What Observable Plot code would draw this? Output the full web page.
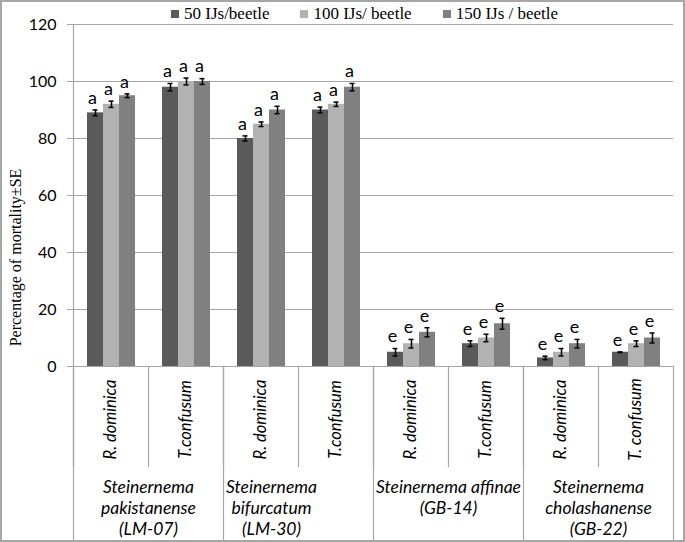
<!DOCTYPE html>
<html>
<head>
<meta charset="utf-8">
<script src="https://cdn.jsdelivr.net/npm/d3@7"></script>
<script src="https://cdn.jsdelivr.net/npm/@observablehq/plot@0.6"></script>
<style>
  html, body { margin: 0; padding: 0; background: #fff; }
  #wrap { position: relative; width: 685px; height: 542px; overflow: hidden; }
  #border { position: absolute; left: 0; top: 0; width: 685px; height: 542px; box-sizing: border-box; border: 2px solid #a6a6a6; pointer-events: none; }
  #legend { position: absolute; left: 171px; top: 4px; }
  .lg-swatches { font-family: "Liberation Serif", serif !important; font-size: 17px !important; color: #000; margin: 0 !important; min-height: 0 !important; }
  .lg-swatch { margin-right: 31px !important; }
  .lg-swatch > svg { margin-right: 5px !important; }
</style>
</head>
<body>
<div id="wrap"><div id="chart"></div><div id="legend"></div><div id="border"></div></div>
<script>
// ---- data ----
const doses = ["50 IJs/beetle", "100 IJs/ beetle", "150 IJs / beetle"];
const speciesLabels = [
  "Steinernema\npakistanense\n(LM-07)",
  "Steinernema\nbifurcatum\n(LM-30)",
  "Steinernema affinae\n(GB-14)",
  "Steinernema\ncholashanense\n(GB-22)"
];
const insectLabels = ["R. dominica", "T.confusum", "R. dominica", "T.confusum", "R. dominica", "T.confusum", "R. dominica", "T. confusum"];
const speciesOfGroup = [0, 0, 1, 1, 2, 2, 3, 3];
const mean50  = [89, 98, 80, 90, 5, 8, 3, 5];
const mean100 = [92, 100, 85, 92, 8, 10, 5, 8];
const mean150 = [95, 100, 90, 98, 12, 15, 8, 10];
const se50  = [1.0, 1.3, 0.9, 1.0, 1.3, 1.0, 0.6, 0.1];
const se100 = [1.1, 1.2, 0.8, 0.75, 1.5, 1.3, 1.3, 1.0];
const se150 = [0.65, 1.0, 1.3, 1.3, 1.6, 1.9, 1.5, 1.75];
const letters = ["a", "a", "a", "a", "e", "e", "e", "e"];
const yLabel = "Percentage of mortality±SE";
const yTicks = [0, 20, 40, 60, 80, 100, 120];

// ---- table built from arrays ----
const groupKeys = insectLabels.map((d, i) => `g${i}`);
const means = [mean50, mean100, mean150];
const ses = [se50, se100, se150];
const rows = [];
groupKeys.forEach((k, g) => {
  doses.forEach((dose, j) => {
    rows.push({key: k, dose, mean: means[j][g], se: ses[j][g], letter: letters[g]});
  });
});
const insectRows = groupKeys.map((k, i) => ({key: k, label: insectLabels[i]}));
const speciesRows = speciesLabels.map((s, i) => ({key: groupKeys[speciesOfGroup.indexOf(i)], label: s, idx: i}));
const groupStartKeys = speciesLabels.map((s, i) => groupKeys[speciesOfGroup.indexOf(i)]);

const grid = "#a6a6a6";
const sans = "Lato, 'Open Sans', sans-serif";
const plotH = 366 - 24;

const chart = Plot.plot({
  width: 685,
  height: 542,
  marginTop: 24,
  marginBottom: 176,
  marginLeft: 73,
  marginRight: 12,
  style: {fontFamily: sans, fontSize: "15px", color: "#000", background: "transparent"},
  fx: {domain: groupKeys, padding: 0, axis: null, label: null},
  x: {domain: doses, paddingInner: 0, paddingOuter: 0.75, axis: null, label: null},
  y: {domain: [0, 120], label: null},
  color: {domain: doses, range: ["#5a5a5a", "#b2b2b2", "#808080"]},
  marks: [
    Plot.gridY(yTicks, {stroke: grid, strokeOpacity: 1, strokeWidth: 1.2}),
    Plot.axisY(yTicks, {tickSize: 6, tickPadding: 11, stroke: grid, strokeOpacity: 1, fontSize: 16, label: null}),
    // left axis line
    Plot.frame({anchor: "left", stroke: grid, strokeWidth: 1.2, fx: () => groupKeys[0]}),
    // minor table separators
    Plot.frame({anchor: "left", stroke: grid, strokeWidth: 1.2, insetTop: plotH, insetBottom: -100}),
    // group table separators
    ...groupStartKeys.map(k => Plot.frame({anchor: "left", stroke: grid, strokeWidth: 1.2, insetTop: plotH, insetBottom: -176, fx: () => k})),
    Plot.frame({anchor: "right", stroke: grid, strokeWidth: 1.2, insetTop: plotH, insetBottom: -176, fx: () => groupKeys[groupKeys.length - 1]}),
    Plot.barY(rows, {fx: "key", x: "dose", y: "mean", fill: "dose"}),
    Plot.ruleY([0], {stroke: grid, strokeWidth: 1.2}),
    Plot.ruleX(rows, {fx: "key", x: "dose", y1: d => d.mean - d.se, y2: d => d.mean + d.se, stroke: "#000", strokeWidth: 1.5}),
    Plot.tickY(rows, {fx: "key", x: "dose", y: d => d.mean + d.se, stroke: "#000", strokeWidth: 1.5, insetLeft: 5.5, insetRight: 5.5}),
    Plot.tickY(rows, {fx: "key", x: "dose", y: d => d.mean - d.se, stroke: "#000", strokeWidth: 1.5, insetLeft: 5.5, insetRight: 5.5}),
    Plot.text(rows, {fx: "key", x: "dose", y: d => d.mean + d.se, text: "letter", dy: -12, dx: -3, fontSize: 18, fill: "#000", fontFamily: sans}),
    // rotated insect labels
    Plot.text(insectRows, {fx: "key", text: "label", frameAnchor: "bottom", rotate: -90, dy: 53, textAnchor: "middle", lineAnchor: "middle", fontSize: 16.5, fontStyle: "italic", fill: "#000", fontFamily: sans}),
    // species labels
    Plot.text(speciesRows.filter(d => d.idx !== 1), {fx: "key", text: "label", frameAnchor: "bottom-right", textAnchor: "middle", lineAnchor: "top", dy: 111, lineHeight: 1.22, fontSize: 17.5, fontStyle: "italic", fill: "#000", fontFamily: sans}),
    Plot.text(speciesRows.filter(d => d.idx === 1), {fx: "key", text: "label", frameAnchor: "bottom-right", textAnchor: "middle", lineAnchor: "top", dy: 111, dx: -27, lineHeight: 1.22, fontSize: 17.5, fontStyle: "italic", fill: "#000", fontFamily: sans}),
    // y label
    Plot.text([yLabel], {fx: () => groupKeys[0], text: d => d, frameAnchor: "left", rotate: -90, dx: -58, dy: 62, textAnchor: "middle", lineAnchor: "middle", fontSize: 16, fill: "#000", fontFamily: "'Liberation Serif', serif"})
  ]
});
document.getElementById("chart").appendChild(chart);
const leg = chart.legend("color", {swatchSize: 8, className: "lg"});
document.getElementById("legend").appendChild(leg);
</script>
</body>
</html>
